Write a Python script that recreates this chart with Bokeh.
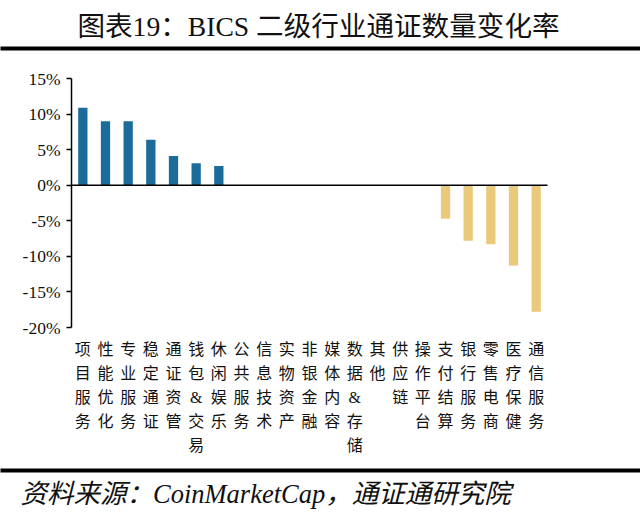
from bokeh.plotting import figure
from bokeh.models import (Range1d, FixedTicker, PrintfTickFormatter, ColumnDataSource, LinearAxis)
from bokeh.core.properties import value
from bokeh.embed import file_html
from bokeh.resources import INLINE

title_text = "图表19：BICS 二级行业通证数量变化率"
source_text = "资料来源：CoinMarketCap，通证通研究院"

categories = ["项目服务", "性能优化", "专业服务", "稳定通证", "通证资管", "钱包&交易", "休闲娱乐",
              "公共服务", "信息技术", "实物资产", "非银金融", "媒体内容", "数据&存储", "其他",
              "供应链", "操作平台", "支付结算", "银行服务", "零售电商", "医疗保健", "通信服务"]
changes = [10.9, 9.0, 9.0, 6.4, 4.1, 3.1, 2.7,
           0, 0, 0, 0, 0, 0, 0,
           0, 0, -4.7, -7.8, -8.3, -11.3, -17.8]
y_ticks = [-20, -15, -10, -5, 0, 5, 10, 15]
y_min, y_max = -20, 15

BLUE = "#1B6C9A"
GOLD = "#EBC97B"
SERIF_CJK = "Liberation Serif, Noto Sans CJK SC"

# page layout (pixels)
W, H = 640, 523
PLOT_L, PLOT_R, PLOT_T, PLOT_B = 71, 547, 78, 327
n = len(categories)
px_per_x = (PLOT_R - PLOT_L) / n
px_per_y = (PLOT_B - PLOT_T) / (y_max - y_min)


def dx(px):
    return (px - PLOT_L) / px_per_x - 0.5


def dy(py):
    return y_max - (py - PLOT_T) / px_per_y


xs = list(range(n))
colors = [BLUE if v > 0 else GOLD for v in changes]
src = ColumnDataSource(dict(x=xs, top=changes, color=colors))

p = figure(width=W, height=H, x_range=Range1d(dx(0), dx(W)), y_range=Range1d(dy(H), dy(0)),
           x_axis_location=None, y_axis_location=None, min_border=0,
           toolbar_location=None, output_backend="svg")
p.outline_line_color = None
p.background_fill_color = "white"
p.border_fill_color = "white"
p.xgrid.grid_line_color = None
p.ygrid.grid_line_color = None
p.grid.visible = False

# bars
p.vbar(x="x", top="top", bottom=0, width=0.41, color="color", line_color=None, source=src)
# zero line across the plot area
p.segment(x0=[-0.5], y0=[0], x1=[n - 0.5], y1=[0], line_color="black", line_width=1.6)

# y axis
yaxis = LinearAxis(fixed_location=-0.5, bounds=(y_min, y_max),
                   ticker=FixedTicker(ticks=y_ticks), formatter=PrintfTickFormatter(format="%d%%"))
yaxis.axis_line_width = 1.5
yaxis.axis_line_color = "black"
yaxis.major_tick_in = 0
yaxis.major_tick_out = 5
yaxis.major_tick_line_width = 1.5
yaxis.minor_tick_line_color = None
yaxis.major_label_text_font = SERIF_CJK
yaxis.major_label_text_font_size = "17.5px"
yaxis.major_label_text_color = "#111111"
yaxis.major_label_standoff = 6
p.add_layout(yaxis, "left")

# category axis (vertical stacked labels)
xaxis = LinearAxis(fixed_location=y_min, ticker=FixedTicker(ticks=xs),
                   major_label_overrides={i: "\n".join(c) for i, c in enumerate(categories)})
xaxis.axis_line_color = None
xaxis.major_tick_line_color = None
xaxis.minor_tick_line_color = None
xaxis.major_label_text_font = SERIF_CJK
xaxis.major_label_text_font_size = "16px"
xaxis.major_label_text_line_height = 1.42
xaxis.major_label_text_color = "#111111"
xaxis.major_label_standoff = 7
p.add_layout(xaxis, "below")

# title, source and rules
p.text(x=[dx(318)], y=[dy(26)], text=[title_text], text_font=value(SERIF_CJK),
       text_font_size="27.6px", text_align="center", text_baseline="middle", text_color="#111111")
p.segment(x0=[dx(-5)], y0=[dy(48)], x1=[dx(W + 5)], y1=[dy(48)], line_color="black", line_width=4)
p.segment(x0=[dx(-5)], y0=[dy(470)], x1=[dx(W + 5)], y1=[dy(470)], line_color="black", line_width=4)
p.text(x=[dx(20)], y=[dy(493)], text=[source_text], text_font=value(SERIF_CJK),
       text_font_size="26.5px", text_font_style="italic", text_align="left",
       text_baseline="middle", text_color="#111111")

open("out.html", "w").write(file_html(p, INLINE))
